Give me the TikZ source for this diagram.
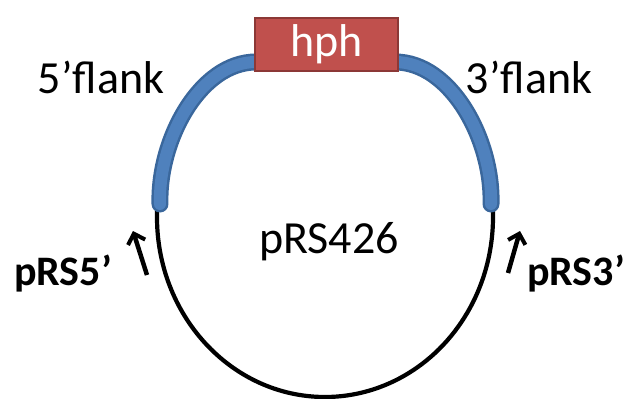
\documentclass[tikz,border=0pt]{standalone}
\usepackage{fontspec}
\setmainfont{Carlito}
\usetikzlibrary{arrows.meta}
\definecolor{flankblue}{HTML}{4F81BD}
\definecolor{flankedge}{HTML}{3A679C}
\definecolor{hphred}{HTML}{C0504D}
\definecolor{hphedge}{HTML}{8C3836}
\begin{document}
\begin{tikzpicture}[x=1pt,y=-1pt,
  every node/.style={inner sep=0pt,font=\fontsize{46}{50}\selectfont},
  label5/.style={anchor=base},
  primer/.style={anchor=base,font=\fontsize{42}{46}\selectfont\bfseries},
  flankline/.style={line width=17pt,flankedge,line cap=round},
  flankfill/.style={line width=12pt,flankblue,line cap=round},
  bindarrow/.style={line width=4.5pt,-{Straight Barb[length=9pt,width=18pt,line width=4pt]}}]
\useasboundingbox (0,0) rectangle (625,399);
% plasmid backbone
\coordinate (ctr) at (325,217);
\draw[line width=4.2pt] ([shift={(178:168pt and 180pt)}]ctr) arc[start angle=178,end angle=362,x radius=168pt,y radius=180pt];
% flanks
\foreach \sty in {flankline,flankfill}{
  \draw[\sty] (160,204) .. controls (158,140) and (200,62) .. (256,62);
  \draw[\sty] (491,204) .. controls (493,140) and (451,62) .. (395,62);
}
% marker gene
\node[draw=hphedge,line width=2pt,fill=hphred,minimum width=143pt,minimum height=53pt,text=white] (hph) at (326.5,44) {hph};
\node[label5] (flank5) at (101,93) {5’flank};
\node[label5] (flank3) at (529,93) {3’flank};
\node[label5] (vector) at (329,253) {pRS426};
\node[primer] (p5) at (63,285) {pRS5’};
\node[primer] (p3) at (576,285) {pRS3’};
% primer sites
\coordinate (a5) at (147,275);
\coordinate (t5) at (133,231);
\coordinate (a3) at (508,273);
\coordinate (t3) at (520,231);
\draw[bindarrow] (a5) -- (t5);
\draw[bindarrow] (a3) -- (t3);
\end{tikzpicture}
\end{document}
